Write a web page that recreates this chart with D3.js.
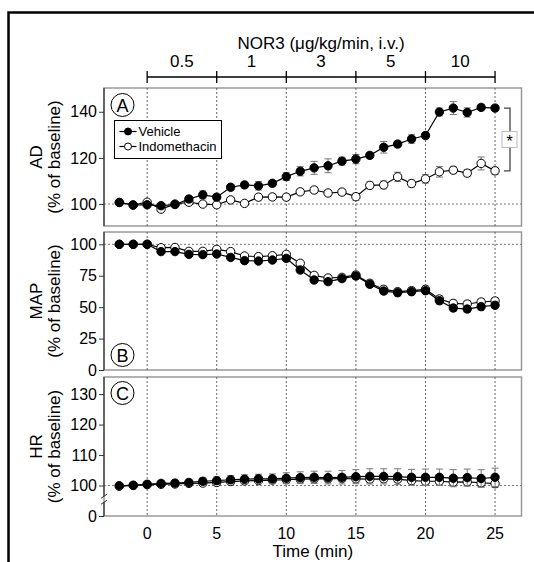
<!DOCTYPE html>
<html>
<head>
<meta charset="utf-8">
<script src="https://cdn.jsdelivr.net/npm/d3@7"></script>
<style>
  body { margin: 0; background: #fff; }
  svg { display: block; font-family: "Liberation Sans", Arial, sans-serif; }
</style>
</head>
<body>
<svg id="chart" width="534" height="562"></svg>
<script>
// time points (min)
const times = d3.range(-2, 26);

// dose periods
const doseLabels = ["0.5", "1", "3", "5", "10"];
const doseEdges = [0, 5, 10, 15, 20, 25];

// panel A - AD (% of baseline)
const adVehicle = [100.7, 99.6, 99.7, 99.3, 99.8, 102.2, 104, 103, 107.3, 108.3, 107.9, 109, 111.9, 114.2,
  115.7, 116.6, 118.6, 119.5, 121.1, 124.6, 126, 128.2, 129.7, 139.9, 141.6, 139.7, 141.9, 141.6];
const adVehicleSem = [0.8, 0.8, 0.8, 1, 1, 1.2, 1.7, 1.3, 1.2, 1.3, 1.8, 1.2, 1.7, 2,
  2.8, 3, 1.7, 2, 1.3, 2.5, 1.3, 1.8, 1.3, 1.7, 2.8, 2, 1.2, 1.2];
const adIndo = [100.7, 99.6, 100.8, 97.8, 100, 100.8, 100, 99.7, 101.8, 100.3, 103, 103.1, 103, 105.3,
  106.1, 104.8, 105.2, 103.2, 108.1, 108.3, 111.8, 108.9, 110.9, 114, 114.7, 113.4, 117.6, 114.4];
const adIndoSem = [0.8, 0.8, 0.8, 1, 1, 1, 1, 1, 1, 1, 1.2, 1.2, 1.3, 1.2,
  1.2, 1.2, 1.3, 1.5, 1.5, 1.7, 2, 1.5, 1.8, 2.3, 1.5, 1.5, 2.8, 1.6];

// panel B - MAP (% of baseline)
const mapVehicle = [100, 100, 100, 94.2, 94.2, 92, 91.8, 92.3, 89.6, 87, 86.7, 87.5, 88.8, 79.6,
  71.6, 70.3, 72.7, 74.8, 68.2, 62.8, 61.5, 62.3, 63.1, 55.1, 49.3, 48.5, 50.4, 51.5];
const mapVehicleSem = [0.5, 0.5, 0.5, 1.5, 1.5, 1.8, 1.8, 1.8, 2, 2, 2, 2, 2, 2.2,
  2.2, 2.2, 2.2, 2.4, 2.4, 2.5, 2.5, 2.5, 2.5, 2.6, 2.6, 2.6, 2.6, 2.6];
const mapIndo = [100, 100, 100, 97.3, 97.5, 94.4, 94.4, 96, 94.2, 90.7, 90.2, 90.9, 92, 84.9,
  75.3, 73.2, 73.7, 75.6, 69, 64.2, 62.3, 63.1, 64.2, 56.5, 53, 52.5, 54.1, 54.9];
const mapIndoSem = [0.5, 0.5, 0.5, 1.5, 1.5, 1.8, 1.8, 1.8, 2, 2, 2, 2, 2, 2.2,
  2.2, 2.2, 2.2, 2.4, 2.4, 2.5, 2.5, 2.5, 2.5, 2.6, 2.6, 2.6, 2.6, 2.6];

// panel C - HR (% of baseline)
const hrVehicle = [99.9, 100.1, 100.4, 100.7, 100.8, 101, 101.4, 101.6, 101.9, 102.1, 102.2, 102.2, 102.4, 102.6,
  102.7, 102.6, 102.7, 102.9, 103, 103, 102.9, 102.7, 102.7, 102.7, 102.4, 102.6, 102.3, 102.7];
const hrVehicleSem = [0.6, 0.6, 0.7, 0.8, 0.9, 1, 1.1, 1.2, 1.3, 1.4, 1.5, 1.6, 1.8, 1.9,
  2, 2.1, 2.2, 2.3, 2.5, 2.5, 2.6, 2.6, 2.7, 2.7, 2.8, 2.8, 2.9, 3];
const hrIndo = [99.8, 100, 100.3, 100.4, 100.5, 100.7, 100.8, 101, 101.3, 101.5, 101.6, 101.8, 101.9, 102.1,
  102.2, 102.2, 102.3, 102.2, 102.1, 102.2, 102.1, 101.6, 101.4, 101.4, 101.1, 101.2, 100.9, 100.6];
const hrIndoSem = [0.5, 0.5, 0.6, 0.6, 0.7, 0.7, 0.8, 0.8, 0.8, 0.9, 0.9, 0.9, 1, 1,
  1, 1, 1, 1, 1, 1, 1, 1, 1.1, 1.1, 1.1, 1.1, 1.2, 1.2];

const svg = d3.select("#chart");

// outer frame
svg.append("rect")
  .attr("x", 8.5).attr("y", 12.5)
  .attr("width", 600).attr("height", 600)
  .attr("fill", "none").attr("stroke", "#000").attr("stroke-width", 2.5);

const left = 104, right = 521.5;
const x = d3.scaleLinear().domain([-3.1, 26.9]).range([left, right]);

const panels = [
  { name: "A", label: "AD", top: 88, bottom: 226, domain: [90.5, 150.3], ticks: [100, 120, 140],
    veh: adVehicle, vehSem: adVehicleSem, ind: adIndo, indSem: adIndoSem, badgeY: 105 },
  { name: "B", label: "MAP", top: 232, bottom: 370, domain: [0, 109.8], ticks: [0, 25, 50, 75, 100],
    veh: mapVehicle, vehSem: mapVehicleSem, ind: mapIndo, indSem: mapIndoSem, badgeY: 355 },
  { name: "C", label: "HR", top: 377, bottom: 516, domain: [90, 135.6], ticks: [90, 100, 110, 120, 130],
    veh: hrVehicle, vehSem: hrVehicleSem, ind: hrIndo, indSem: hrIndoSem, badgeY: 393 }
];

panels.forEach(p => {
  const y = d3.scaleLinear().domain(p.domain).range([p.bottom, p.top]);
  p.y = y;
  const g = svg.append("g");

  // box
  g.append("rect")
    .attr("x", left).attr("y", p.top)
    .attr("width", right - left).attr("height", p.bottom - p.top)
    .attr("fill", "none").attr("stroke", "#999").attr("stroke-width", 1.5);

  // vertical dashed lines at dose changes
  g.selectAll(".vline").data(doseEdges).enter().append("line")
    .attr("x1", d => x(d)).attr("x2", d => x(d))
    .attr("y1", p.top).attr("y2", p.bottom)
    .attr("stroke", "#555").attr("stroke-width", 0.9).attr("stroke-dasharray", "2,2");

  // baseline 100
  g.append("line")
    .attr("x1", left).attr("x2", right)
    .attr("y1", y(100)).attr("y2", y(100))
    .attr("stroke", "#666").attr("stroke-width", 0.9).attr("stroke-dasharray", "2,2");

  // y axis
  const axis = d3.axisLeft(y).tickValues(p.ticks).tickSize(5).tickPadding(2)
    .tickFormat(d => (p.name === "C" && d === 90) ? "0" : d);
  const ag = g.append("g").attr("transform", `translate(${left},0)`).call(axis);
  ag.select(".domain").remove();
  ag.selectAll(".tick line").attr("stroke", "#333");
  ag.selectAll(".tick text").attr("font-size", 16).attr("fill", "#000")
    .attr("font-family", "'Liberation Sans', Arial, sans-serif");

  // axis line (broken in panel C)
  if (p.name === "C") {
    const brk = y(95.5);
    g.append("line").attr("x1", left).attr("x2", left).attr("y1", p.top).attr("y2", brk - 3)
      .attr("stroke", "#333").attr("stroke-width", 1.2);
    g.append("line").attr("x1", left).attr("x2", left).attr("y1", brk + 3).attr("y2", p.bottom)
      .attr("stroke", "#333").attr("stroke-width", 1.2);
    [brk - 3, brk + 3].forEach(by => {
      g.append("line").attr("x1", left - 3).attr("x2", left + 3)
        .attr("y1", by + 2).attr("y2", by - 2)
        .attr("stroke", "#333").attr("stroke-width", 1);
    });
  } else {
    g.append("line").attr("x1", left).attr("x2", left).attr("y1", p.top).attr("y2", p.bottom)
      .attr("stroke", "#333").attr("stroke-width", 1.2);
  }

  // y label
  const ly = (p.top + p.bottom) / 2;
  g.append("text")
    .attr("transform", `translate(42,${ly}) rotate(-90)`)
    .attr("text-anchor", "middle").attr("font-size", 17).text(p.label);
  g.append("text")
    .attr("transform", `translate(60,${ly}) rotate(-90)`)
    .attr("text-anchor", "middle").attr("font-size", 17).text("(% of baseline)");

  // series
  const series = [
    { v: p.ind, s: p.indSem, fill: "#fff" },
    { v: p.veh, s: p.vehSem, fill: "#000" }
  ];
  const line = d3.line().x((d, i) => x(times[i])).y(d => y(d));
  series.forEach(sr => {
    const sg = g.append("g");
    const eb = sg.selectAll(".eb").data(sr.v).enter().append("g");
    eb.append("line")
      .attr("x1", (d, i) => x(times[i])).attr("x2", (d, i) => x(times[i]))
      .attr("y1", (d, i) => y(d + sr.s[i])).attr("y2", (d, i) => y(d - sr.s[i]))
      .attr("stroke", "#777").attr("stroke-width", 1);
    [1, -1].forEach(sign => {
      eb.append("line")
        .attr("x1", (d, i) => x(times[i]) - 3.5).attr("x2", (d, i) => x(times[i]) + 3.5)
        .attr("y1", (d, i) => y(d + sign * sr.s[i])).attr("y2", (d, i) => y(d + sign * sr.s[i]))
        .attr("stroke", "#777").attr("stroke-width", 1);
    });
    sg.append("path").datum(sr.v)
      .attr("d", line).attr("fill", "none").attr("stroke", "#000").attr("stroke-width", 1.2);
    sg.selectAll("circle").data(sr.v).enter().append("circle")
      .attr("cx", (d, i) => x(times[i])).attr("cy", d => y(d)).attr("r", 4.2)
      .attr("fill", sr.fill).attr("stroke", "#000").attr("stroke-width", 1);
  });

  // panel badge
  g.append("circle").attr("cx", 122.5).attr("cy", p.badgeY).attr("r", 11.5)
    .attr("fill", "#fff").attr("stroke", "#000").attr("stroke-width", 1);
  g.append("text").attr("x", 122.5).attr("y", p.badgeY + 6.5)
    .attr("text-anchor", "middle").attr("font-size", 18).text(p.name);
});

// x axis labels (bottom panel)
const pc = panels[2];
svg.append("g").selectAll("text").data(doseEdges).enter().append("text")
  .attr("x", d => x(d)).attr("y", pc.bottom + 23)
  .attr("text-anchor", "middle").attr("font-size", 16).text(d => d);
svg.append("text")
  .attr("x", (left + right) / 2).attr("y", pc.bottom + 41)
  .attr("text-anchor", "middle").attr("font-size", 17).text("Time (min)");

// dose bar
const barY = 77;
svg.append("line").attr("x1", x(doseEdges[0])).attr("x2", x(doseEdges[doseEdges.length - 1]))
  .attr("y1", barY).attr("y2", barY).attr("stroke", "#000").attr("stroke-width", 1.3);
svg.selectAll(".dtick").data(doseEdges).enter().append("line")
  .attr("x1", d => x(d)).attr("x2", d => x(d))
  .attr("y1", barY - 6).attr("y2", barY + 6)
  .attr("stroke", "#000").attr("stroke-width", 1.3);
svg.selectAll(".dlab").data(doseLabels).enter().append("text")
  .attr("x", (d, i) => (x(doseEdges[i]) + x(doseEdges[i + 1])) / 2)
  .attr("y", barY - 10)
  .attr("text-anchor", "middle").attr("font-size", 17).text(d => d);
svg.append("text")
  .attr("x", (x(doseEdges[0]) + x(doseEdges[doseEdges.length - 1])) / 2)
  .attr("y", 49).attr("text-anchor", "middle").attr("font-size", 17)
  .text("NOR3 (\u03bcg/kg/min, i.v.)");

// legend in panel A
const lg = svg.append("g").attr("transform", "translate(114.5,120.5)");
lg.append("rect").attr("width", 107).attr("height", 38)
  .attr("fill", "#fff").attr("stroke", "#000").attr("stroke-width", 1);
[["Vehicle", "#000"], ["Indomethacin", "#fff"]].forEach((e, i) => {
  const ry = 11 + i * 15;
  lg.append("line").attr("x1", 5).attr("x2", 22).attr("y1", ry).attr("y2", ry)
    .attr("stroke", "#000").attr("stroke-width", 1.2);
  lg.append("circle").attr("cx", 13.5).attr("cy", ry).attr("r", 3.5)
    .attr("fill", e[1]).attr("stroke", "#000");
  lg.append("text").attr("x", 24).attr("y", ry + 4.5).attr("font-size", 13).text(e[0]);
});

// significance bracket
const pa = panels[0];
const bx = 510;
const bTop = pa.y(adVehicle[adVehicle.length - 1]);
const bBot = pa.y(adIndo[adIndo.length - 1]);
svg.append("path")
  .attr("d", `M${bx - 6},${bTop}H${bx}V${bBot}H${bx - 6}`)
  .attr("fill", "none").attr("stroke", "#444").attr("stroke-width", 1.3);
const sy = (bTop + bBot) / 2;
svg.append("rect").attr("x", bx - 8).attr("y", sy - 8).attr("width", 15).attr("height", 16)
  .attr("fill", "#fff").attr("stroke", "#bbb").attr("stroke-width", 1);
svg.append("text").attr("x", bx - 0.5).attr("y", sy + 8).attr("text-anchor", "middle")
  .attr("font-size", 16).text("*");
</script>
</body>
</html>
